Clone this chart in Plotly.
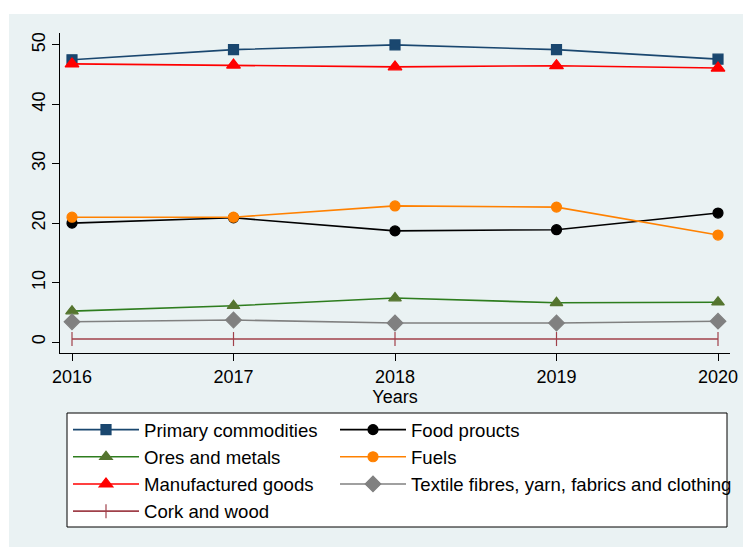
import plotly.graph_objects as go

years = [2016, 2017, 2018, 2019, 2020]
primary = [47.5, 49.2, 50.0, 49.2, 47.6]
food = [20.0, 20.9, 18.7, 18.9, 21.7]
ores = [5.2, 6.1, 7.4, 6.6, 6.7]
fuels = [21.0, 21.0, 22.9, 22.7, 18.0]
manuf = [46.8, 46.6, 46.3, 46.5, 46.1]
textile = [3.4, 3.7, 3.2, 3.2, 3.5]
cork = [0.5, 0.5, 0.5, 0.5, 0.5]

# name, values, colour, symbol, size, legend column
series = [
    ("Primary commodities", primary, "#1a476f", "square", 10, "legend"),
    ("Food proucts", food, "#000000", "circle", 10, "legend2"),
    ("Ores and metals", ores, "#2e7d1e", "triangle-up", 11, "legend"),
    ("Fuels", fuels, "#ff8100", "circle", 10, "legend2"),
    ("Manufactured goods", manuf, "#ff0000", "triangle-up", 12, "legend"),
    ("Textile fibres, yarn, fabrics and clothing", textile, "#808080", "diamond", 12, "legend2"),
    ("Cork and wood", cork, "#a0404a", "line-ns-open", 10, "legend"),
]
marker_colors = {"Ores and metals": "#55752f"}

W, H = 743, 547
L, R, T, B = 60, 13, 33, 194
pw, ph = W - L - R, H - T - B

def px_x(x):
    return (x - L) / pw

def px_y(y):
    return 1 - (y - T) / ph

fig = go.Figure()
for name, vals, col, sym, sz, leg in series:
    mc = marker_colors.get(name, col)
    fig.add_trace(go.Scatter(
        x=years, y=vals, name=name, mode="lines+markers", legend=leg,
        line=dict(color=col, width=1.6),
        marker=dict(symbol=sym, size=sz, color=mc, line=dict(color=mc, width=1.2)),
    ))

font = "Liberation Sans, Arial, sans-serif"
leg_common = dict(
    orientation="v", xanchor="left", yanchor="top",
    itemwidth=66, bgcolor="rgba(0,0,0,0)",
    font=dict(family=font, size=18.6, color="black"),
    tracegroupgap=0,
)
fig.update_layout(
    width=W, height=H,
    margin=dict(l=L, r=R, t=T, b=B, autoexpand=False),
    paper_bgcolor="white",
    plot_bgcolor="white",
    font=dict(family=font, size=18, color="black"),
    showlegend=True,
    legend=dict(x=px_x(68), y=px_y(411), **leg_common),
    legend2=dict(x=px_x(335), y=px_y(411), **leg_common),
    xaxis=dict(
        range=[2016 - 12 / 161.5, 2020 + 12 / 161.5],
        tickvals=years, ticktext=[str(y) for y in years],
        showgrid=False, zeroline=False,
        showline=True, linecolor="black", linewidth=1,
        ticks="outside", ticklen=7, tickcolor="black",
        title=dict(text="Years", font=dict(size=18), standoff=0),
    ),
    yaxis=dict(
        range=[-1.85, 52.0],
        tickvals=[0, 10, 20, 30, 40, 50],
        tickangle=-90,
        showgrid=True, gridcolor="#eaf2f3", gridwidth=1,
        zeroline=False,
        showline=True, linecolor="black", linewidth=1,
        ticks="outside", ticklen=7, tickcolor="black",
    ),
    shapes=[
        dict(type="rect", xref="paper", yref="paper", layer="below",
             x0=px_x(9), x1=px_x(743), y0=px_y(547), y1=px_y(14),
             fillcolor="#eaf2f3", line=dict(width=0)),
        dict(type="rect", xref="paper", yref="paper", layer="below",
             x0=px_x(67), x1=px_x(727), y0=px_y(527), y1=px_y(413),
             fillcolor="white", line=dict(color="black", width=1)),
    ],
)

fig.write_html(
    "out.html",
    config={"displayModeBar": False},
    post_script="document.body.style.margin='0';document.body.style.overflow='hidden';",
)
